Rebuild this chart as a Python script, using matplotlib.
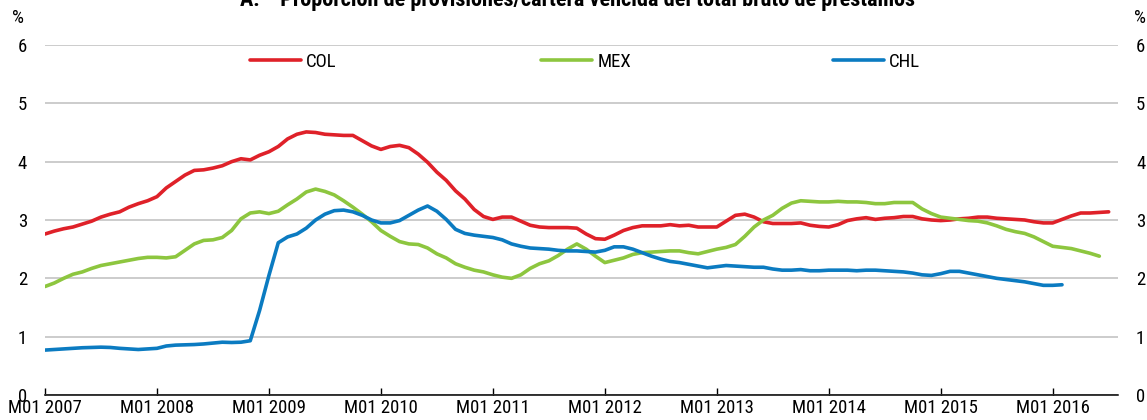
import numpy as np
import matplotlib
matplotlib.use("Agg")
import matplotlib.pyplot as plt
from matplotlib.lines import Line2D

# -----------------------------
# Data (monthly, from M01 2007)
# -----------------------------
col = [2.76, 2.81, 2.85, 2.88, 2.93, 2.98, 3.05, 3.10, 3.14, 3.22, 3.28, 3.33,
       3.40, 3.55, 3.66, 3.77, 3.85, 3.86, 3.89, 3.93, 4.00, 4.05, 4.03, 4.11,
       4.17, 4.26, 4.39, 4.47, 4.51, 4.50, 4.47, 4.46, 4.45, 4.45, 4.36, 4.27,
       4.21, 4.26, 4.28, 4.24, 4.13, 3.99, 3.82, 3.68, 3.50, 3.36, 3.18, 3.06,
       3.01, 3.05, 3.05, 2.98, 2.91, 2.88, 2.87, 2.87, 2.87, 2.86, 2.76, 2.68,
       2.67, 2.74, 2.82, 2.87, 2.90, 2.90, 2.90, 2.92, 2.90, 2.91, 2.88, 2.88,
       2.88, 2.98, 3.08, 3.10, 3.05, 2.97, 2.94, 2.94, 2.94, 2.95, 2.91, 2.89,
       2.88, 2.92, 2.99, 3.02, 3.04, 3.01, 3.03, 3.04, 3.06, 3.06, 3.02, 3.00,
       2.99, 3.00, 3.02, 3.03, 3.05, 3.05, 3.03, 3.02, 3.01, 3.00, 2.97, 2.95,
       2.95, 3.01, 3.07, 3.12, 3.12, 3.13, 3.14]

mex = [1.86, 1.92, 2.00, 2.07, 2.11, 2.17, 2.22, 2.25, 2.28, 2.31, 2.34, 2.36,
       2.36, 2.35, 2.37, 2.48, 2.59, 2.65, 2.66, 2.70, 2.82, 3.02, 3.12, 3.14,
       3.11, 3.15, 3.26, 3.36, 3.48, 3.53, 3.49, 3.43, 3.33, 3.22, 3.10, 2.97,
       2.82, 2.72, 2.63, 2.59, 2.58, 2.52, 2.42, 2.35, 2.25, 2.19, 2.14, 2.11,
       2.06, 2.02, 2.00, 2.06, 2.17, 2.25, 2.30, 2.39, 2.50, 2.59, 2.50, 2.38,
       2.27, 2.31, 2.35, 2.41, 2.44, 2.45, 2.46, 2.47, 2.47, 2.44, 2.42, 2.46,
       2.50, 2.53, 2.58, 2.72, 2.88, 3.00, 3.08, 3.20, 3.29, 3.33, 3.32, 3.31,
       3.31, 3.32, 3.31, 3.31, 3.30, 3.28, 3.28, 3.30, 3.30, 3.30, 3.19, 3.11,
       3.05, 3.03, 3.01, 2.99, 2.98, 2.95, 2.90, 2.84, 2.80, 2.77, 2.71, 2.63,
       2.55, 2.53, 2.51, 2.47, 2.43, 2.38]

chl = [0.77, 0.78, 0.79, 0.80, 0.81, 0.815, 0.82, 0.815, 0.80, 0.79, 0.78, 0.79,
       0.80, 0.84, 0.855, 0.86, 0.865, 0.875, 0.89, 0.905, 0.90, 0.905, 0.93, 1.45,
       2.05, 2.61, 2.71, 2.76, 2.86, 3.00, 3.10, 3.16, 3.17, 3.14, 3.08, 3.00,
       2.95, 2.95, 2.99, 3.08, 3.17, 3.24, 3.15, 3.01, 2.84, 2.77, 2.74, 2.72,
       2.70, 2.66, 2.59, 2.55, 2.52, 2.51, 2.50, 2.48, 2.47, 2.47, 2.46, 2.45,
       2.48, 2.54, 2.54, 2.50, 2.44, 2.38, 2.33, 2.29, 2.27, 2.24, 2.21, 2.18,
       2.20, 2.22, 2.21, 2.20, 2.19, 2.19, 2.16, 2.14, 2.14, 2.15, 2.13, 2.13,
       2.14, 2.14, 2.14, 2.13, 2.14, 2.14, 2.13, 2.12, 2.11, 2.09, 2.06, 2.05,
       2.08, 2.12, 2.12, 2.09, 2.06, 2.03, 2.00, 1.98, 1.96, 1.94, 1.91, 1.88,
       1.88, 1.89]

years = list(range(2007, 2017))
tick_labels = [f"M01 {y}" for y in years]
y_ticks = [0, 1, 2, 3, 4, 5, 6]

TITLE = "A.    Proporción de provisiones/cartera vencida del total bruto de préstamos"

# -----------------------------
# Style
# -----------------------------
plt.rcParams["font.family"] = ["Roboto Condensed", "Archivo Narrow", "DejaVu Sans"]
FS = 13.5

C_COL = "#DF2129"
C_MEX = "#8DC63F"
C_CHL = "#0B7BC1"

W, H = 1147, 420
X0, X1 = 45, 1118       # pixel extent of the plot area
Y0, Y6 = 395, 45        # pixel of y=0 and y=6

fig = plt.figure(figsize=(W / 100, H / 100), dpi=100)
ax = fig.add_axes([X0 / W, 1 - Y0 / H, (X1 - X0) / W, (Y0 - Y6) / H])

series = [("COL", col, C_COL, 250), ("MEX", mex, C_MEX, 541), ("CHL", chl, C_CHL, 833)]
for name, vals, color, _ in series:
    ax.plot(np.arange(len(vals)), vals, color=color, lw=2.6, label=name,
            solid_capstyle="round", solid_joinstyle="round", zorder=3)

ax.set_xlim(0, 115)
ax.set_ylim(0, 6)

ax.set_xticks([12 * i for i in range(len(years))])
ax.set_xticklabels(tick_labels, fontsize=FS)
ax.tick_params(axis="x", direction="in", length=5, width=1, pad=3, color="black")

ax.set_yticks(y_ticks)
ax.set_yticklabels([str(v) for v in y_ticks], fontsize=FS)
ax.tick_params(axis="y", length=0, pad=13, labelleft=True, labelright=True)

ax.grid(axis="y", color="#C8C8C8", lw=1.3, zorder=0)
ax.set_axisbelow(True)
for s in ["left", "right", "top"]:
    ax.spines[s].set_visible(False)
ax.spines["bottom"].set_color("black")
ax.spines["bottom"].set_linewidth(1.1)
ax.spines["bottom"].set_zorder(4)

# one legend entry per series, each placed where the reference puts it
legends = []
for name, vals, color, xpix in series:
    h = Line2D([], [], color=color, lw=2.6, solid_capstyle="round")
    lg = ax.legend([h], [name], loc="center left",
                   bbox_to_anchor=((xpix - X0) / (X1 - X0), (Y0 - 62) / (Y0 - Y6)),
                   frameon=False, fontsize=FS, handlelength=2.7, handletextpad=0.3,
                   borderaxespad=0, borderpad=0)
    legends.append(lg)
for lg in legends[:-1]:
    ax.add_artist(lg)

fig.text(18 / W, 1 - 18 / H, "%", fontsize=FS, ha="center", va="center")
fig.text(1140 / W, 1 - 18 / H, "%", fontsize=FS, ha="center", va="center")

fig.text(578 / W, 1 - 6 / H, TITLE, fontsize=16, fontweight="bold",
         ha="center", va="baseline")

fig.savefig("out.png", dpi=100)
